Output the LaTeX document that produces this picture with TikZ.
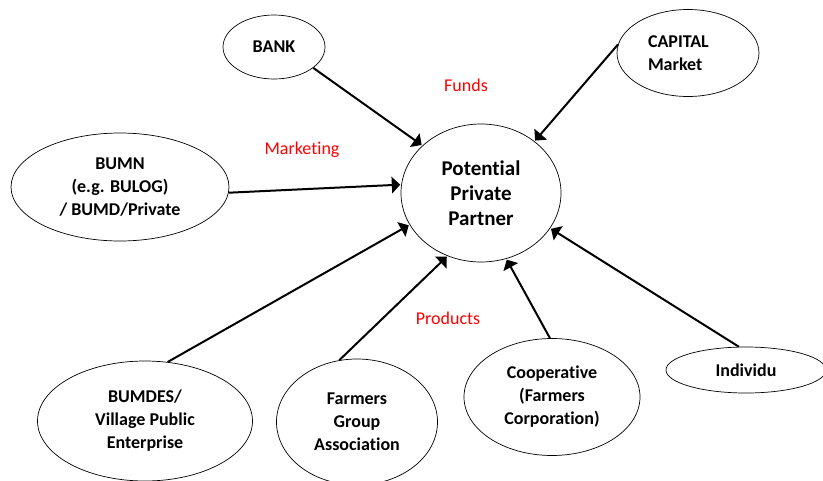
\documentclass[tikz,border=0pt]{standalone}
\usepackage{fontspec}
\setmainfont{Carlito}[Ligatures=NoCommon]
\usetikzlibrary{arrows}
\usetikzlibrary{shapes.geometric}

\begin{document}
\begin{tikzpicture}[x=1pt,y=-1pt,
		party/.style={draw=black,ellipse,line width=0.7pt,inner sep=0pt,align=center,font=\fontsize{18}{23}\selectfont\bfseries},
		flow/.style={draw=black,line width=2pt,-triangle 90,shorten >=1pt},
		tag/.style={text=red,font=\fontsize{18}{20}\selectfont}]
		\useasboundingbox (0,0) rectangle (823,480);
		\clip (0,0) rectangle (823,480);

		\node[party,minimum width=160pt,minimum height=138pt,font=\fontsize{21}{25}\selectfont\bfseries] (partner) at (481,193) {Potential\\Private\\Partner};

		\node[party,minimum width=102pt,minimum height=64pt] (bank) at (274,47) {BANK};
		\node[party,minimum width=142pt,minimum height=87pt,align=left,text width=80pt] (capital) at (688,53) {CAPITAL\\Market};
		\node[party,minimum width=218pt,minimum height=108pt] (bumn) at (120,187) {BUMN\\(e.g. BULOG)\\/ BUMD/Private};

		\node[party,minimum width=215pt,minimum height=120pt] (bumdes) at (145,421) {BUMDES/\\Village Public\\Enterprise};
		\node[party,minimum width=161pt,minimum height=126pt] (farmers) at (357,422) {Farmers\\Group\\Association};
		\node[party,minimum width=176pt,minimum height=117pt] (coop) at (552,397) {Cooperative\\(Farmers\\Corporation)};
		\node[party,minimum width=160pt,minimum height=46pt] (indiv) at (746,370) {Individu};

		\draw[flow] (bank.-28) -- (partner.141);
		\draw[flow] (capital.173) -- (partner.44);
		\draw[flow] (bumn.-3) -- (partner.174);
		\draw[flow] (bumdes.69) -- (partner.204);
		\draw[flow] (farmers.106) -- (partner.242);
		\draw[flow] (coop.92) -- (partner.291);
		\draw[flow] (indiv.107) -- (partner.333);

		\node[tag] (funds) at (466,85) {Funds};
		\node[tag] (marketing) at (302,150) {Marketing};
		\node[tag] (products) at (448,318) {Products};
\end{tikzpicture}
\end{document}
